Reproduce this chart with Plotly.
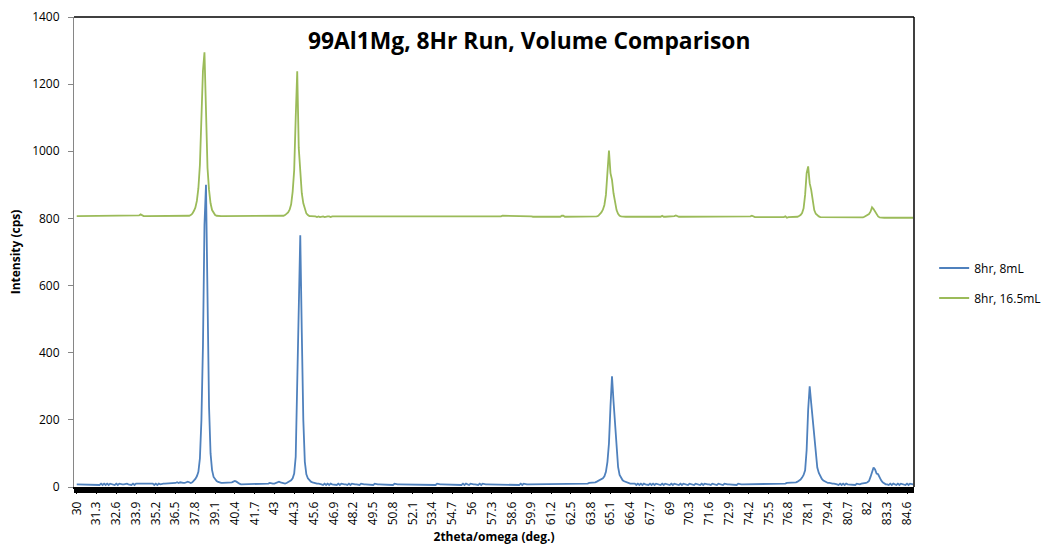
import numpy as np
import plotly.graph_objects as go

# 2theta scan: 30.0 to 85.0 deg in 0.1 deg steps
two_theta_start = 30.0
two_theta_step = 0.1

# Intensity (cps), 8hr run, 8 mL — one row per degree (x.0 ... x.9)
intensity_8ml = [
    8, 8, 8, 8, 8, 8, 8, 8, 8, 8,               # 30
    8, 8, 8, 8, 8, 6, 10, 6, 10, 6,             # 31
    10, 6, 10, 8, 8, 6, 10, 6, 10, 8,           # 32
    8, 8, 10, 10, 8, 8, 6, 10, 6, 10,           # 33
    10, 10, 10, 10, 10, 10, 10, 10, 10, 10,     # 34
    10, 6, 10, 6, 10, 8, 10, 10, 10, 10,        # 35
    10, 10, 10, 10, 12, 12, 14, 12, 14, 12,     # 36
    12, 12, 14, 16, 14, 12, 14, 18, 24, 32,     # 37
    45, 85, 200, 420, 780, 900, 520, 240, 100, 50,  # 38
    30, 22, 18, 15, 13, 12, 12, 12, 12, 12,     # 39
    12, 12, 14, 16, 18, 16, 12, 10, 8, 8,       # 40
    8, 8, 8, 8, 8, 10, 10, 10, 10, 10,          # 41
    10, 10, 10, 10, 10, 10, 10, 12, 10, 10,     # 42
    10, 12, 14, 16, 14, 12, 10, 10, 12, 14,     # 43
    16, 20, 26, 40, 90, 310, 600, 750, 460, 200,  # 44
    75, 38, 26, 20, 16, 14, 12, 12, 10, 10,     # 45
    10, 8, 6, 10, 6, 10, 6, 10, 8, 8,           # 46
    8, 6, 10, 6, 10, 8, 8, 8, 6, 10,            # 47
    6, 10, 8, 8, 8, 8, 6, 10, 8, 8,             # 48
    8, 8, 8, 8, 8, 6, 10, 8, 8, 8,              # 49
    8, 8, 8, 8, 8, 8, 8, 8, 6, 10,              # 50
    8, 8, 8, 8, 8, 8, 8, 8, 8, 8,               # 51
    8, 8, 8, 8, 8, 8, 8, 8, 8, 8,               # 52
    8, 8, 8, 8, 8, 8, 6, 10, 8, 8,              # 53
    8, 8, 8, 8, 8, 8, 8, 8, 8, 8,               # 54
    8, 8, 8, 6, 10, 6, 10, 8, 6, 10,            # 55
    8, 8, 8, 8, 6, 10, 6, 10, 8, 8,             # 56
    8, 8, 8, 8, 8, 8, 8, 8, 8, 8,               # 57
    8, 8, 8, 8, 8, 8, 8, 8, 8, 8,               # 58
    8, 6, 10, 6, 10, 8, 8, 8, 8, 8,             # 59
    8, 8, 8, 8, 8, 8, 8, 8, 8, 8,               # 60
    8, 8, 8, 8, 8, 8, 8, 8, 8, 8,               # 61
    8, 8, 8, 10, 10, 10, 10, 10, 10, 10,        # 62
    10, 10, 10, 10, 10, 10, 10, 12, 12, 14,     # 63
    14, 14, 16, 18, 20, 22, 26, 32, 45, 75,     # 64
    130, 240, 330, 255, 185, 110, 60, 36, 26, 20,  # 65
    17, 15, 13, 12, 10, 10, 10, 10, 6, 10,      # 66
    6, 10, 6, 10, 8, 8, 6, 10, 6, 10,           # 67
    6, 10, 8, 8, 6, 10, 6, 10, 8, 8,            # 68
    6, 10, 6, 10, 8, 8, 6, 10, 6, 10,           # 69
    8, 8, 6, 10, 8, 8, 6, 10, 8, 8,             # 70
    6, 10, 6, 10, 8, 8, 8, 6, 10, 8,            # 71
    8, 6, 10, 8, 8, 6, 10, 8, 8, 8,             # 72
    8, 8, 8, 8, 6, 10, 8, 8, 8, 8,              # 73
    8, 8, 8, 8, 8, 8, 8, 8, 8, 8,               # 74
    8, 8, 8, 8, 8, 10, 10, 10, 10, 10,          # 75
    10, 10, 10, 10, 10, 10, 10, 12, 12, 12,     # 76
    12, 12, 14, 14, 16, 18, 22, 28, 36, 50,     # 77
    110, 230, 300, 250, 200, 135, 85, 58, 42, 32,  # 78
    24, 19, 16, 14, 12, 12, 10, 10, 10, 10,     # 79
    8, 6, 10, 6, 10, 6, 10, 8, 8, 8,            # 80
    8, 8, 6, 10, 8, 8, 10, 10, 10, 12,          # 81
    14, 18, 30, 45, 58, 52, 40, 38, 28, 20,     # 82
    14, 10, 8, 8, 6, 10, 6, 10, 8, 6,           # 83
    10, 6, 10, 8, 8, 6, 10, 6, 10, 8,           # 84
    8,                                          # 85.0
]

# Intensity (cps), 8hr run, 16.5 mL (stacked +800 above the 8 mL scan)
intensity_16ml = [
    807, 807, 807, 807, 807, 807, 807, 807, 807, 807,   # 30
    807, 807, 807, 807, 807, 807, 807, 807, 807, 807,   # 31
    807, 807, 807, 807, 807, 807, 807, 807, 807, 807,   # 32
    807, 807, 807, 807, 807, 807, 807, 807, 807, 807,   # 33
    807, 809, 812, 809, 807, 807, 807, 807, 807, 807,   # 34
    807, 807, 807, 807, 807, 807, 807, 807, 807, 807,   # 35
    807, 807, 807, 807, 807, 807, 807, 807, 807, 807,   # 36
    807, 807, 807, 807, 808, 810, 814, 822, 832, 852,   # 37
    890, 960, 1080, 1240, 1295, 1080, 950, 885, 845, 825,  # 38
    815, 810, 808, 807, 807, 807, 807, 807, 807, 807,   # 39
    807, 807, 807, 807, 807, 807, 807, 807, 807, 807,   # 40
    807, 807, 807, 807, 807, 807, 807, 807, 807, 807,   # 41
    807, 807, 807, 807, 807, 807, 807, 807, 807, 807,   # 42
    807, 807, 807, 807, 807, 807, 808, 810, 814, 818,   # 43
    826, 842, 880, 944, 1100, 1238, 1010, 925, 875, 845,  # 44
    826, 815, 810, 807, 807, 807, 806, 806, 804, 806,   # 45
    804, 806, 806, 804, 806, 806, 806, 804, 806, 806,   # 46
    806, 806, 804, 806, 806, 806, 806, 806, 806, 806,   # 47
    806, 806, 806, 806, 806, 806, 806, 806, 806, 806,   # 48
    806, 806, 806, 806, 806, 806, 806, 806, 806, 806,   # 49
    806, 806, 806, 806, 806, 806, 806, 806, 806, 806,   # 50
    806, 806, 806, 806, 806, 806, 806, 806, 806, 806,   # 51
    806, 806, 806, 806, 806, 806, 806, 806, 806, 806,   # 52
    806, 806, 806, 806, 806, 806, 806, 806, 806, 806,   # 53
    806, 806, 806, 806, 806, 806, 806, 806, 806, 806,   # 54
    806, 806, 806, 806, 806, 806, 806, 806, 806, 806,   # 55
    806, 806, 806, 806, 806, 806, 806, 806, 806, 806,   # 56
    806, 806, 806, 806, 806, 806, 806, 806, 806, 806,   # 57
    808, 808, 806, 806, 806, 806, 806, 806, 806, 806,   # 58
    806, 806, 806, 806, 806, 806, 806, 806, 806, 806,   # 59
    805, 805, 805, 805, 805, 805, 805, 805, 805, 805,   # 60
    805, 805, 805, 805, 805, 805, 805, 805, 805, 808,   # 61
    808, 805, 805, 805, 805, 805, 805, 805, 805, 805,   # 62
    805, 805, 805, 805, 805, 805, 805, 805, 805, 805,   # 63
    805, 805, 806, 808, 812, 818, 826, 840, 870, 935,   # 64
    1002, 935, 915, 875, 845, 825, 814, 808, 806, 805,  # 65
    805, 805, 805, 805, 805, 805, 805, 805, 803, 805,   # 66
    803, 805, 805, 803, 805, 805, 805, 805, 805, 805,   # 67
    805, 805, 805, 805, 805, 808, 805, 805, 805, 805,   # 68
    805, 805, 805, 807, 809, 806, 805, 805, 805, 805,   # 69
    804, 804, 804, 804, 804, 804, 804, 804, 804, 804,   # 70
    804, 804, 804, 804, 804, 804, 804, 804, 804, 804,   # 71
    804, 804, 804, 804, 804, 804, 804, 804, 804, 804,   # 72
    804, 804, 804, 804, 804, 804, 804, 804, 804, 804,   # 73
    804, 804, 804, 806, 808, 805, 804, 804, 804, 804,   # 74
    804, 804, 804, 804, 804, 804, 804, 804, 804, 804,   # 75
    804, 802, 804, 804, 802, 804, 806, 802, 804, 804,   # 76
    804, 804, 804, 804, 805, 807, 810, 816, 830, 870,   # 77
    935, 955, 905, 885, 850, 825, 814, 809, 806, 804,   # 78
    804, 804, 804, 804, 804, 804, 802, 804, 802, 804,   # 79
    803, 803, 803, 803, 803, 803, 803, 803, 803, 803,   # 80
    803, 803, 803, 803, 803, 803, 803, 803, 805, 808,   # 81
    812, 813, 820, 833, 828, 820, 812, 806, 803, 802,   # 82
    802, 802, 802, 802, 802, 802, 802, 802, 802, 802,   # 83
    802, 802, 802, 802, 802, 802, 802, 802, 802, 802,   # 84
    802,                                                # 85.0
]

# Category labels shown along the 2theta axis
x_tick_labels = ["30", "31.3", "32.6", "33.9", "35.2", "36.5", "37.8", "39.1",
                 "40.4", "41.7", "43", "44.3", "45.6", "46.9", "48.2", "49.5",
                 "50.8", "52.1", "53.4", "54.7", "56", "57.3", "58.6", "59.9",
                 "61.2", "62.5", "63.8", "65.1", "66.4", "67.7", "69", "70.3",
                 "71.6", "72.9", "74.2", "75.5", "76.8", "78.1", "79.4", "80.7",
                 "82", "83.3", "84.6"]

series_names = ["8hr, 8mL", "8hr, 16.5mL"]
series_colors = ["#4F81BD", "#9BBB59"]

two_theta = np.round(two_theta_start + two_theta_step * np.arange(len(intensity_8ml)), 1)

FONT = "Open Sans, Liberation Sans, sans-serif"
X_RANGE = [29.82, 85.06]

fig = go.Figure()

# carrier for the per-category tick axis (one tick mark per scan step)
fig.add_trace(go.Scatter(
    x=two_theta, y=intensity_8ml, xaxis="x2", mode="lines",
    line=dict(color="rgba(0,0,0,0)", width=0), showlegend=False,
    hoverinfo="skip",
))

for name, ys, color in zip(series_names, [intensity_8ml, intensity_16ml], series_colors):
    fig.add_trace(go.Scatter(
        x=two_theta, y=ys, mode="lines", name=name, legendgroup=name,
        line=dict(color=color, width=1.8),
    ))

fig.update_layout(
    width=1047, height=546,
    margin=dict(l=74, r=133, t=17, b=59, autoexpand=False),
    paper_bgcolor="white", plot_bgcolor="white",
    font=dict(family=FONT, size=12, color="#000000"),
    showlegend=True,
    legend=dict(
        x=1.024, xanchor="left", y=0.434, yanchor="middle",
        font=dict(family=FONT, size=12, color="#000000"),
        itemwidth=30, tracegroupgap=11, bgcolor="rgba(0,0,0,0)",
    ),
    annotations=[dict(
        text="<b>99Al1Mg, 8Hr Run, Volume Comparison</b>",
        xref="paper", yref="paper", x=0.5417, y=0.951,
        xanchor="center", yanchor="middle", showarrow=False,
        font=dict(family=FONT, size=22.8, color="#000000"),
    )],
    shapes=[
        dict(type="line", xref="paper", yref="paper", x0=0, x1=1, y0=1, y1=1,
             line=dict(color="#000000", width=1.5)),
        dict(type="line", xref="paper", yref="paper", x0=1, x1=1, y0=0, y1=1,
             line=dict(color="#000000", width=1.5)),
    ],
    xaxis2=dict(
        overlaying="x", side="bottom", range=X_RANGE,
        tickmode="linear", tick0=30, dtick=0.1,
        ticks="outside", ticklen=5, tickwidth=2, tickcolor="#000000",
        showticklabels=False, showline=False, showgrid=False, zeroline=False,
    ),
    xaxis=dict(
        range=X_RANGE,
        tickmode="array",
        tickvals=[float(t) for t in x_tick_labels],
        ticktext=x_tick_labels,
        tickangle=-90,
        ticks="outside", ticklen=5, tickwidth=1, tickcolor="#000000",
        showline=True, linecolor="#000000", linewidth=1.5,
        showgrid=False, zeroline=False,
        tickfont=dict(family=FONT, size=12, color="#000000"),
        ticklabelstandoff=3,
        title=dict(text="<b>2theta/omega (deg.)</b>", standoff=8,
                   font=dict(family=FONT, size=12, color="#000000")),
    ),
)

fig.update_yaxes(
    range=[0, 1400], tickmode="linear", tick0=0, dtick=200,
    ticks="outside", ticklen=5, tickwidth=1, tickcolor="#868686",
    showline=True, linecolor="#868686", linewidth=1,
    showgrid=False, zeroline=False,
    tickfont=dict(family=FONT, size=12, color="#000000"),
    ticklabelstandoff=6,
    title=dict(text="<b>Intensity (cps)</b>", standoff=8,
               font=dict(family=FONT, size=12, color="#000000")),
)

fig.write_html("out.html")
